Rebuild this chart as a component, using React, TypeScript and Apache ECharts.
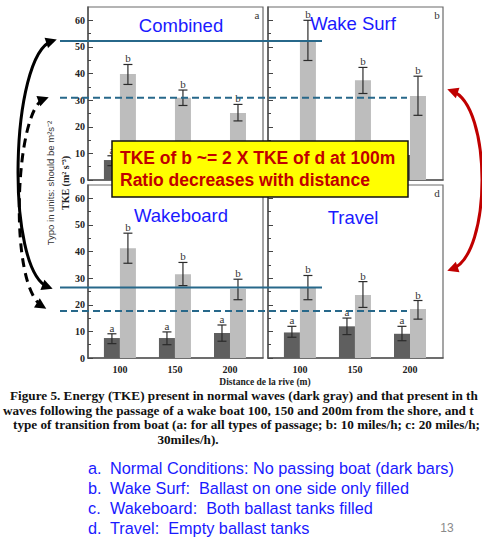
import React, { useEffect, useRef } from "react";
import * as echarts from "echarts";

// Distances from shore (m)
const distances = [100, 150, 200];

// Panel titles and corner letters
const panelTitles = ["Combined", "Wake Surf", "Wakeboard", "Travel"];
const panelLetters = ["a", "b", "", "d"];

// TKE in normal waves (dark bars) and its error range
const combinedNormal = [7.5, 7.5, 9.4];
const combinedNormalErr = [[5.4, 9.1], [5.0, 9.8], [6.3, 12.4]];
const surfNormal = [7.5, 7.5, 9.4];
const surfNormalErr = [[5.4, 9.1], [5.0, 9.8], [6.3, 12.4]];
const boardNormal = [7.5, 7.5, 9.4];
const boardNormalErr = [[5.4, 9.1], [5.0, 9.8], [6.3, 12.4]];
const travelNormal = [9.6, 11.9, 9.1];
const travelNormalErr = [[7.8, 11.9], [8.8, 15.0], [6.5, 11.9]];

// TKE after the passage of the wake boat (light bars) and its error range
const combinedBoat = [39.8, 30.9, 25.2];
const combinedBoatErr = [[35.9, 43.4], [28.0, 33.8], [22.2, 28.4]];
const surfBoat = [52.2, 37.5, 31.6];
const surfBoatErr = [[44.9, 60.0], [32.5, 42.3], [24.3, 39.0]];
const boardBoat = [41.2, 31.5, 25.9];
const boardBoatErr = [[35.6, 46.9], [27.2, 35.9], [21.9, 29.6]];
const travelBoat = [26.3, 23.7, 18.4];
const travelBoatErr = [[21.9, 31.0], [19.0, 28.7], [14.6, 21.6]];

// Significance letters over each error bar (blank where the callout hides them)
const normalLetters = [["a", "", ""], ["", "", ""], ["a", "a", "a"], ["a", "a", "a"]];
const boatLetters = [["b", "b", "b"], ["b", "b", "b"], ["b", "b", "b"], ["b", "b", "b"]];

// Reference levels: Wake Surf vs Combined (top row), Travel vs Wakeboard (bottom row)
const topSolidLevel = 52.2;
const topDashedLevel = 30.9;
const bottomSolidLevel = 26.5;
const bottomDashedLevel = 17.7;

// Axis ticks
const yTickValues = [0, 10, 20, 30, 40, 50, 60];

const captionLines = [
  "Figure 5. Energy (TKE) present in normal waves (dark gray) and that present in th",
  "waves following the passage of a wake boat 100, 150 and 200m from the shore, and t",
  "type of transition from boat (a: for all types of passage; b: 10 miles/h; c: 20 miles/h;",
  "30miles/h).",
];
const legendLetters = ["a.", "b.", "c.", "d."];
const legendTexts = [
  "Normal Conditions: No passing boat (dark bars)",
  "Wake Surf:  Ballast on one side only filled",
  "Wakeboard:  Both ballast tanks filled",
  "Travel:  Empty ballast tanks",
];

const normalSets = [combinedNormal, surfNormal, boardNormal, travelNormal];
const normalErrSets = [combinedNormalErr, surfNormalErr, boardNormalErr, travelNormalErr];
const boatSets = [combinedBoat, surfBoat, boardBoat, travelBoat];
const boatErrSets = [combinedBoatErr, surfBoatErr, boardBoatErr, travelBoatErr];

const SERIF = "'Liberation Serif', 'Times New Roman', serif";
const SANS = "'Liberation Sans', Arial, sans-serif";
const BLUE = "#1a1aff";
const LINE_BLUE = "#27688a";
const RED = "#c00000";

const gridLefts = [88, 268, 88, 268];
const gridTops = [7, 7, 185, 185];
const GRID_W = 175;
const GRID_H = 173;
const titlePos = [[181, 25], [353, 23], [181, 215], [353, 217]];

function errRenderer(offset: number, letters: string[]) {
  return (params: any, api: any) => {
    const x = api.value(0);
    const lo = api.coord([x, api.value(1)]);
    const hi = api.coord([x, api.value(2)]);
    const cx = lo[0] + offset;
    const cap = 4.5;
    const st = { stroke: "#2b2b2b", lineWidth: 1.2 };
    const children: any[] = [
      { type: "line", shape: { x1: cx, y1: lo[1], x2: cx, y2: hi[1] }, style: st },
      { type: "line", shape: { x1: cx - cap, y1: lo[1], x2: cx + cap, y2: lo[1] }, style: st },
      { type: "line", shape: { x1: cx - cap, y1: hi[1], x2: cx + cap, y2: hi[1] }, style: st },
    ];
    const letter = letters[params.dataIndex];
    if (letter) {
      children.push({
        type: "text",
        x: cx,
        y: hi[1] - 0.5,
        style: {
          text: letter,
          fill: "#333",
          fontFamily: SERIF,
          fontSize: 11,
          align: "center",
          verticalAlign: "bottom",
        },
      });
    }
    return { type: "group", children };
  };
}

function arrowHead(tip: number[], from: number[], len: number, half: number) {
  const dx = tip[0] - from[0];
  const dy = tip[1] - from[1];
  const d = Math.hypot(dx, dy);
  const ux = dx / d;
  const uy = dy / d;
  const t = [tip[0] + ux * 5, tip[1] + uy * 5];
  const bx = t[0] - ux * len;
  const by = t[1] - uy * len;
  return [t, [bx - uy * half, by + ux * half], [bx + uy * half, by - ux * half]];
}

function curvedArrow(
  p0: number[], p1: number[], p2: number[], p3: number[],
  color: string, dashed: boolean
) {
  return [
    {
      type: "bezierCurve",
      z: 120,
      shape: { x1: p0[0], y1: p0[1], cpx1: p1[0], cpy1: p1[1], cpx2: p2[0], cpy2: p2[1], x2: p3[0], y2: p3[1] },
      style: { stroke: color, lineWidth: 3, fill: null, lineDash: dashed ? [9, 6] : null },
    },
    { type: "polygon", z: 121, shape: { points: arrowHead(p3, p2, 11, 5.5) }, style: { fill: color } },
    { type: "polygon", z: 121, shape: { points: arrowHead(p0, p1, 11, 5.5) }, style: { fill: color } },
  ];
}

export default function App() {
  const ref = useRef<HTMLDivElement>(null);

  useEffect(() => {
    if (!ref.current) return;
    const chart = echarts.init(ref.current, null, { renderer: "svg" });

    const grids = gridLefts.map((left, i) => ({
      left,
      top: gridTops[i],
      width: GRID_W,
      height: GRID_H,
      show: true,
      borderColor: "#6a6a6a",
      borderWidth: 1.2,
      backgroundColor: "transparent",
    }));

    const xAxes = grids.map((_g, i) => ({
      type: "value",
      gridIndex: i,
      min: 71,
      max: 230,
      splitLine: { show: false },
      axisTick: { show: false },
      axisLine: { show: true, lineStyle: { color: "#555", width: 1.5 } },
      axisLabel: {
        show: i >= 2,
        customValues: distances,
        fontFamily: SERIF,
        fontWeight: "bold",
        fontSize: 10,
        color: "#222",
        margin: 6,
      },
    }));

    const yAxes = grids.map((_g, i) => ({
      type: "value",
      gridIndex: i,
      min: 0,
      max: 65,
      interval: 10,
      splitLine: { show: false },
      axisLine: { show: true, lineStyle: { color: "#555", width: 1.5 } },
      axisTick: { show: true, inside: true, length: 5, customValues: yTickValues, lineStyle: { color: "#444" } },
      minorTick: { show: true, splitNumber: 2, length: 3, lineStyle: { color: "#444" } },
      axisLabel: {
        show: i % 2 === 0,
        customValues: yTickValues,
        fontFamily: SERIF,
        fontWeight: "bold",
        fontSize: 10,
        color: "#222",
        margin: 3,
      },
    }));

    const series: any[] = [];
    for (let i = 0; i < 4; i++) {
      series.push({
        type: "bar",
        xAxisIndex: i,
        yAxisIndex: i,
        barWidth: 16,
        barGap: "0%",
        itemStyle: { color: "#5f5f5f" },
        data: distances.map((d, k) => [d, normalSets[i][k]]),
      });
      series.push({
        type: "bar",
        xAxisIndex: i,
        yAxisIndex: i,
        barWidth: 16,
        barGap: "0%",
        itemStyle: { color: "#bdbdbd" },
        data: distances.map((d, k) => [d, boatSets[i][k]]),
      });
      series.push({
        type: "custom",
        xAxisIndex: i,
        yAxisIndex: i,
        z: 5,
        encode: { x: 0, y: [1, 2] },
        renderItem: errRenderer(-8, normalLetters[i]),
        data: distances.map((d, k) => [d, normalErrSets[i][k][0], normalErrSets[i][k][1]]),
      });
      series.push({
        type: "custom",
        xAxisIndex: i,
        yAxisIndex: i,
        z: 5,
        encode: { x: 0, y: [1, 2] },
        renderItem: errRenderer(8, boatLetters[i]),
        data: distances.map((d, k) => [d, boatErrSets[i][k][0], boatErrSets[i][k][1]]),
      });
    }

    chart.setOption({
      animation: false,
      backgroundColor: "#ffffff",
      grid: grids,
      xAxis: xAxes,
      yAxis: yAxes,
      series,
    });

    const yPix = (axis: number, v: number) => chart.convertToPixel({ yAxisIndex: axis }, v) as number;

    const graphic: any[] = [];

    // Panel titles and corner letters
    panelTitles.forEach((t, i) => {
      graphic.push({
        type: "text",
        z: 60,
        x: titlePos[i][0],
        y: titlePos[i][1],
        style: { text: t, fill: BLUE, fontFamily: SANS, fontSize: 18.5, align: "center", verticalAlign: "middle" },
      });
      if (panelLetters[i]) {
        graphic.push({
          type: "text",
          z: 60,
          x: gridLefts[i] + GRID_W - 6,
          y: gridTops[i] + 8,
          style: { text: panelLetters[i], fill: "#333", fontFamily: SERIF, fontSize: 11, align: "center", verticalAlign: "middle" },
        });
      }
    });

    // Reference levels across rows
    const levelLines = [
      { axis: 0, v: topSolidLevel, x2: 322, dash: null },
      { axis: 0, v: topDashedLevel, x2: 407, dash: [7, 4] },
      { axis: 2, v: bottomSolidLevel, x2: 322, dash: null },
      { axis: 2, v: bottomDashedLevel, x2: 407, dash: [7, 4] },
    ];
    levelLines.forEach((l) => {
      const y = yPix(l.axis, l.v);
      graphic.push({
        type: "line",
        z: 80,
        shape: { x1: 60, y1: y, x2: l.x2, y2: y },
        style: { stroke: LINE_BLUE, lineWidth: 2, lineDash: l.dash },
      });
    });

    // Axis titles
    graphic.push({
      type: "text",
      z: 60,
      x: 65,
      y: 183,
      rotation: Math.PI / 2,
      style: { text: "TKE (m² s⁻³)", fill: "#222", fontFamily: SERIF, fontWeight: "bold", fontSize: 10, align: "center", verticalAlign: "middle" },
    });
    graphic.push({
      type: "text",
      z: 60,
      x: 50,
      y: 183,
      rotation: Math.PI / 2,
      style: { text: "Typo in units: should be m²s⁻²", fill: "#333", fontFamily: SANS, fontSize: 9.5, align: "center", verticalAlign: "middle" },
    });
    graphic.push({
      type: "text",
      z: 60,
      x: 265,
      y: 382,
      style: { text: "Distance de la rive (m)", fill: "#222", fontFamily: SERIF, fontWeight: "bold", fontSize: 9.5, align: "center", verticalAlign: "middle" },
    });

    // Figure caption
    const capX = [10, 3, 13, 188];
    const capY = [395, 410, 424.5, 439];
    captionLines.forEach((t, i) => {
      graphic.push({
        type: "text",
        z: 60,
        x: capX[i],
        y: capY[i],
        style: {
          text: t,
          fill: "#111",
          fontFamily: SERIF,
          fontWeight: "bold",
          fontSize: 13.2,
          align: i === 3 ? "center" : "left",
          verticalAlign: "middle",
        },
      });
    });

    // Condition legend
    legendTexts.forEach((t, i) => {
      const y = 468 + i * 20;
      graphic.push({
        type: "text",
        z: 60,
        x: 88,
        y,
        style: { text: legendLetters[i], fill: BLUE, fontFamily: SANS, fontSize: 16.3, align: "left", verticalAlign: "middle" },
      });
      graphic.push({
        type: "text",
        z: 60,
        x: 110,
        y,
        style: { text: t, fill: BLUE, fontFamily: SANS, fontSize: 16.3, align: "left", verticalAlign: "middle" },
      });
    });
    graphic.push({
      type: "text",
      z: 60,
      x: 447,
      y: 528,
      style: { text: "13", fill: "#8a8a8a", fontFamily: SANS, fontSize: 12, align: "center", verticalAlign: "middle" },
    });

    // Callout box
    graphic.push({
      type: "rect",
      z: 100,
      shape: { x: 112, y: 141, width: 296, height: 56 },
      style: { fill: "#ffff00", stroke: "#111", lineWidth: 1.5 },
    });
    ["TKE of b ~= 2 X TKE of d at 100m", "Ratio decreases with distance"].forEach((t, i) => {
      graphic.push({
        type: "text",
        z: 101,
        x: 120,
        y: 158 + i * 22,
        style: { text: t, fill: RED, fontFamily: SANS, fontWeight: "bold", fontSize: 17.5, align: "left", verticalAlign: "middle" },
      });
    });

    // Curved arrows
    graphic.push(...curvedArrow([52, 41], [10, 55], [5, 270], [48, 287], "#000", false));
    graphic.push(...curvedArrow([44, 99], [15, 110], [8, 285], [42, 306], "#000", true));
    graphic.push(...curvedArrow([452, 91], [492, 105], [492, 255], [452, 269], RED, false));

    chart.setOption({ graphic });

    return () => chart.dispose();
  }, []);

  return (
    <div
      ref={ref}
      style={{ position: "absolute", left: 0, top: 0, width: 482, height: 537, background: "#fff" }}
    />
  );
}
